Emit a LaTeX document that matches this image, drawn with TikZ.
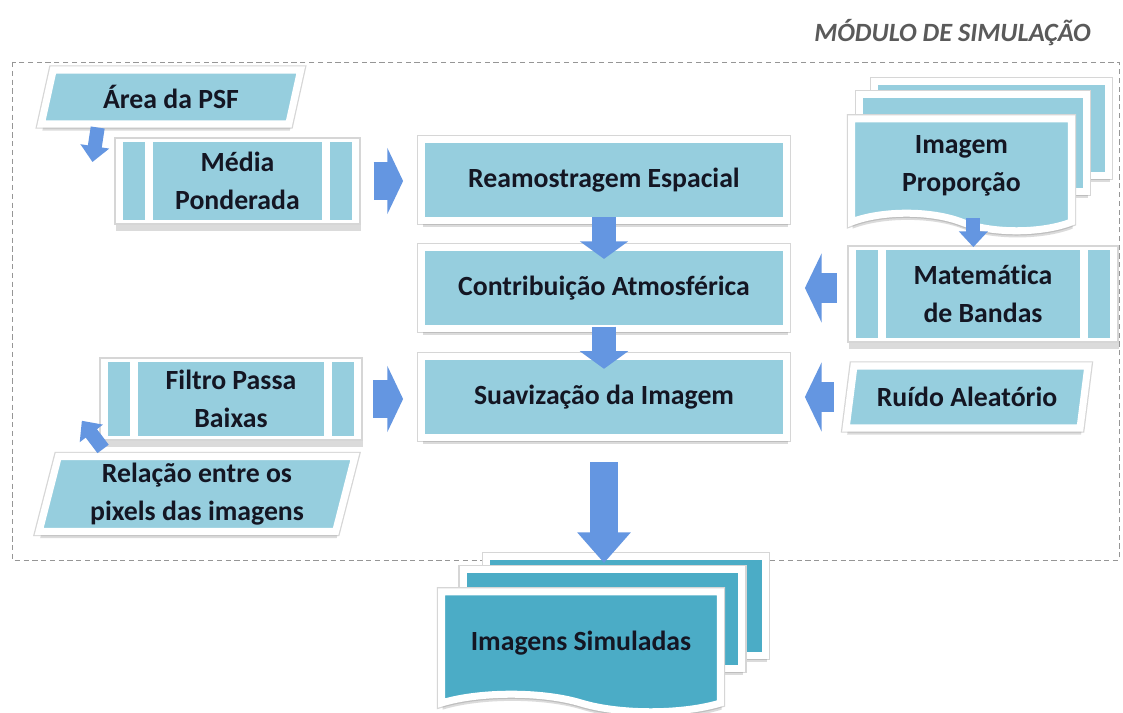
\documentclass[tikz,border=0pt]{standalone}
\usepackage{fontspec}
\setmainfont{Carlito}[Ligatures=CommonOff]
\usetikzlibrary{arrows.meta,shapes.geometric,shapes.symbols,shadows}

\definecolor{caixa}{RGB}{150,206,222}
\definecolor{caixaesc}{RGB}{75,172,198}
\definecolor{azulseta}{RGB}{100,150,225}
\definecolor{texto}{RGB}{20,22,35}
\definecolor{cinzatitulo}{RGB}{90,90,90}
\definecolor{moldura}{RGB}{150,150,150}

\tikzset{
  sombra/.style={drop shadow={shadow xshift=.6pt,shadow yshift=-3.8pt,opacity=.28}},
  borda/.style={draw=white,line width=4pt,preaction={draw=black!16,line width=5.4pt}},
  rotulo/.style={font=\bfseries\fontsize{15.8}{21.5}\selectfont,text=texto,align=center},
  etapa/.style={rotulo,rectangle,fill=caixa,borda,sombra,
    minimum width=7.3cm,minimum height=1.62cm},
  processo/.style={rotulo,rectangle,fill=white,draw=black!16,line width=.7pt,sombra,
    path picture={
      \fill[caixa] ([shift={(4.5pt,-2.5pt)}]path picture bounding box.north west)
        rectangle ([shift={(17pt,2.5pt)}]path picture bounding box.south west);
      \fill[caixa] ([shift={(-4.5pt,-2.5pt)}]path picture bounding box.north east)
        rectangle ([shift={(-17pt,2.5pt)}]path picture bounding box.south east);
      \fill[caixa] ([shift={(21.5pt,-2.5pt)}]path picture bounding box.north west)
        rectangle ([shift={(-21.5pt,2.5pt)}]path picture bounding box.south east);
    }},
  dados/.style={rotulo,trapezium,trapezium left angle=78,trapezium right angle=102,
    trapezium stretches=true,fill=caixa,borda,sombra},
  folha/.style={rectangle,fill=caixa,borda,sombra},
  documento/.style={rotulo,tape,tape bend top=none,tape bend bottom=out and in,
    tape bend height=10pt,fill=caixa,borda,sombra},
  seta/.style={draw=azulseta},
  seta vert/.style={seta,line width=13.5pt,-{Triangle[length=10pt,width=27pt]}},
  seta horiz/.style={seta,line width=21.5pt,-{Triangle[length=9pt,width=37.5pt]}},
  seta volta/.style={seta,line width=17pt,-{Triangle[length=9.5pt,width=39pt]}},
  seta final/.style={seta,line width=16pt,-{Triangle[length=17.5pt,width=29.5pt]}},
  setinha/.style={seta,line width=8pt,-{Triangle[length=9pt,width=16pt]}}
}

\begin{document}
\begin{tikzpicture}[x=0.02cm,y=-0.02cm]
  \useasboundingbox[fill=white] (0,0) rectangle (1123,713);

  % moldura do modulo
  \draw[moldura,dash pattern=on 3pt off 2pt] (12,62) rectangle (1119,560);
  \node[anchor=east,font=\bfseries\itshape\fontsize{15}{18}\selectfont,text=cinzatitulo]
    (modulo) at (1097,33) {MÓDULO DE SIMULAÇÃO};

  % coluna central
  \node[etapa] (reamo) at (604,180) {Reamostragem Espacial};
  \node[etapa] (contrib) at (604,288) {Contribuição Atmosférica};
  \node[etapa] (suav) at (604,397) {Suavização da Imagem};

  % entradas da esquerda
  \node[dados,minimum width=5.2cm,minimum height=1.08cm] (area) at (171,97) {Área da PSF};
  \node[processo,minimum width=4.9cm,minimum height=1.72cm] (media) at (237.5,181) {Média\\Ponderada};
  \node[processo,minimum width=5.24cm,minimum height=1.64cm] (filtro) at (231,399) {Filtro Passa\\Baixas};
  \node[dados,minimum width=6.32cm,minimum height=1.5cm] (relacao) at (197,494) {Relação entre os\\pixels das imagens};

  % entradas da direita
  \node[folha,minimum width=4.68cm,minimum height=1.88cm] (prop2) at (991.5,128.5) {};
  \node[folha,minimum width=4.54cm,minimum height=1.94cm] (prop1) at (973,143) {};
  \node[documento,minimum width=4.4cm,minimum height=2.24cm] (prop) at (961.5,166) {Imagem\\Proporção};
  \node[processo,minimum width=5.4cm,minimum height=1.92cm] (mate) at (983,294) {Matemática\\de Bandas};
  \node[dados,minimum width=4.84cm,minimum height=1.24cm] (ruido) at (967,397) {Ruído Aleatório};

  % saida
  \node[folha,fill=caixaesc,minimum width=5.58cm,minimum height=1.98cm] (sim2) at (626,606) {};
  \node[folha,fill=caixaesc,minimum width=5.58cm,minimum height=1.98cm] (sim1) at (602.5,619) {};
  \node[documento,fill=caixaesc,minimum width=5.58cm,minimum height=2.4cm] (sim) at (581,643) {Imagens Simuladas};

  % setas
  \draw[seta vert,shorten <=-4pt,shorten >=-8.5pt] (reamo.south) -- (contrib.north);
  \draw[seta vert,shorten <=-3pt,shorten >=-9pt] (contrib.south) -- (suav.north);
  \draw[seta horiz,shorten <=7.4pt,shorten >=8.5pt] (media.east) -- (media.east -| reamo.west);
  \draw[seta horiz,shorten <=6.2pt,shorten >=8.5pt] (filtro.east) -- (filtro.east -| suav.west);
  \draw[seta volta,shorten <=6.2pt,shorten >=8.5pt] (contrib.east -| mate.west) -- (contrib.east);
  \draw[seta volta,shorten <=7.4pt,shorten >=8.5pt] (ruido.west) -- (ruido.west -| suav.east);
  \draw[setinha,shorten <=1pt,shorten >=-1pt] ([xshift=-5.5pt]mate.north |- prop.south) -- ([xshift=-5.5pt]mate.north);
  \draw[setinha] ([xshift=34.6pt]area.bottom left corner) -- ([xshift=-12.5pt,yshift=10.8pt]media.west);
  \draw[setinha] ([xshift=27pt,yshift=2.3pt]relacao.top left corner) -- ([xshift=-10pt,yshift=11.3pt]filtro.south west);
  \draw[seta final,shorten <=12pt,shorten >=-5.7pt] (suav.south) -- (suav.south |- sim2.north);
\end{tikzpicture}
\end{document}
